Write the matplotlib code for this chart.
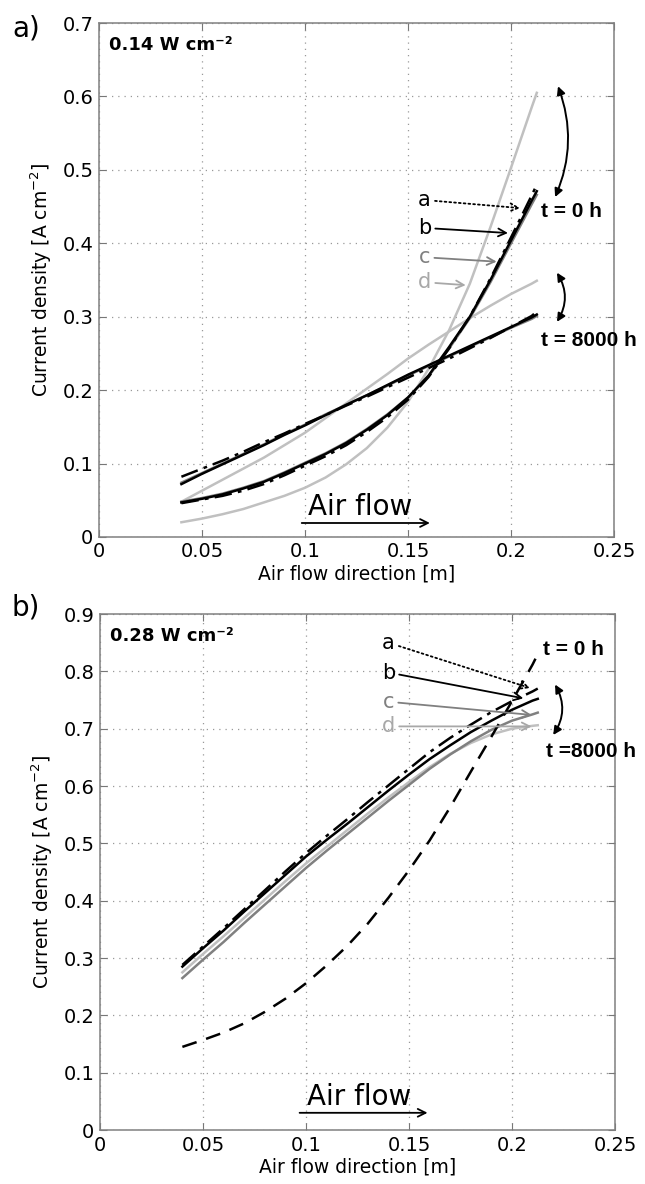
import matplotlib
matplotlib.use("Agg")
import matplotlib.pyplot as plt
import numpy as np

plt.rcParams['font.family'] = ['DejaVu Sans']
plt.rcParams['mathtext.fontset'] = 'dejavusans'

# positions along the channel [m]
x = [0.04, 0.05, 0.06, 0.07, 0.08, 0.09, 0.10, 0.11, 0.12, 0.13,
     0.14, 0.15, 0.16, 0.17, 0.18, 0.19, 0.20, 0.21, 0.2125]

# a) 0.14 W cm-2, t = 0 h
top_t0_a = [0.046, 0.051, 0.056, 0.063, 0.072, 0.084, 0.097, 0.110, 0.125, 0.143,
            0.163, 0.187, 0.218, 0.257, 0.300, 0.352, 0.408, 0.465, 0.480]
top_t0_b = [0.047, 0.052, 0.058, 0.066, 0.075, 0.087, 0.100, 0.113, 0.128, 0.146,
            0.166, 0.190, 0.220, 0.259, 0.300, 0.350, 0.404, 0.458, 0.471]
top_t0_c = [0.048, 0.053, 0.059, 0.067, 0.076, 0.088, 0.101, 0.114, 0.129, 0.147,
            0.167, 0.190, 0.219, 0.257, 0.298, 0.347, 0.400, 0.453, 0.466]
top_t0_d = [0.020, 0.025, 0.031, 0.038, 0.047, 0.056, 0.067, 0.081, 0.099, 0.121,
            0.149, 0.184, 0.229, 0.282, 0.345, 0.422, 0.503, 0.585, 0.605]
# a) 0.14 W cm-2, t = 8000 h
top_t8_a = [0.082, 0.093, 0.104, 0.116, 0.129, 0.141, 0.154, 0.166, 0.179, 0.191,
            0.204, 0.217, 0.230, 0.243, 0.257, 0.271, 0.286, 0.301, 0.307]
top_t8_b = [0.072, 0.086, 0.099, 0.112, 0.125, 0.139, 0.152, 0.166, 0.180, 0.193,
            0.207, 0.221, 0.234, 0.247, 0.260, 0.273, 0.286, 0.299, 0.303]
top_t8_c = [0.074, 0.087, 0.100, 0.113, 0.126, 0.140, 0.153, 0.167, 0.180, 0.193,
            0.206, 0.220, 0.233, 0.246, 0.259, 0.272, 0.285, 0.297, 0.301]
top_t8_d = [0.048, 0.063, 0.078, 0.093, 0.108, 0.125, 0.142, 0.162, 0.182, 0.202,
            0.222, 0.243, 0.262, 0.280, 0.298, 0.315, 0.331, 0.345, 0.349]

# b) 0.28 W cm-2
bot_a = [0.288, 0.320, 0.352, 0.385, 0.418, 0.451, 0.483, 0.513, 0.542, 0.572,
         0.601, 0.630, 0.659, 0.684, 0.707, 0.729, 0.748, 0.765, 0.770]
bot_b = [0.285, 0.317, 0.348, 0.381, 0.413, 0.445, 0.477, 0.506, 0.534, 0.563,
         0.592, 0.620, 0.647, 0.671, 0.694, 0.714, 0.733, 0.749, 0.752]
bot_c = [0.265, 0.297, 0.328, 0.361, 0.393, 0.425, 0.457, 0.487, 0.516, 0.545,
         0.574, 0.602, 0.630, 0.655, 0.678, 0.698, 0.714, 0.725, 0.728]
bot_d = [0.275, 0.307, 0.338, 0.370, 0.402, 0.434, 0.465, 0.494, 0.523, 0.552,
         0.580, 0.607, 0.633, 0.656, 0.675, 0.690, 0.700, 0.705, 0.706]
bot_dashed = [0.145, 0.157, 0.170, 0.186, 0.206, 0.229, 0.256, 0.287, 0.321, 0.360,
              0.405, 0.453, 0.505, 0.563, 0.625, 0.686, 0.748, 0.812, 0.830]

xticks = [0, 0.05, 0.1, 0.15, 0.2, 0.25]
xticklabels = ['0', '0.05', '0.1', '0.15', '0.2', '0.25']

BLACK = 'black'
GRAY = '#808080'
LIGHT = '#c0c0c0'
LIGHT_TXT = '#a8a8a8'
DASHDOT = (0, (7, 2.5, 1.5, 2.5))
BOLD_FONT = ['Liberation Sans', 'DejaVu Sans']


def style_axes(ax, ymax):
    ax.set_xlim(0, 0.25)
    ax.set_ylim(0, ymax)
    ax.set_xticks(xticks)
    ax.set_xticklabels(xticklabels)
    yt = np.round(np.arange(0, ymax + 0.001, 0.1), 1)
    ax.set_yticks(yt)
    ax.set_yticklabels(['0'] + ['%.1f' % v for v in yt[1:]])
    ax.grid(True, linestyle=(0, (1, 4)), color='#999999', linewidth=0.9)
    ax.tick_params(direction='in', top=True, right=True, length=5,
                   color='#777777', labelsize=14, pad=4)
    for s in ax.spines.values():
        s.set_color('#808080')
        s.set_linewidth(1.1)
    ax.set_xlabel('Air flow direction [m]', fontsize=13.5, labelpad=2)
    ax.set_ylabel('Current density [A cm$^{-2}$]', fontsize=13.5, labelpad=6)


def label_arrow(ax, letter, xytext, xy, color, ls='-'):
    ax.annotate(letter, xy=xy, xytext=xytext, fontsize=15, color=color,
                ha='center', va='center',
                arrowprops=dict(arrowstyle='->', color=color, lw=1.3,
                                linestyle=ls, shrinkA=1, shrinkB=0,
                                mutation_scale=14))


def swing_arrow(ax, top, bottom, rad):
    ax.annotate('', xy=bottom, xytext=top,
                arrowprops=dict(arrowstyle='<|-|>', color='k', lw=1.4,
                                connectionstyle='arc3,rad=%s' % rad,
                                shrinkA=0, shrinkB=0, mutation_scale=12),
                annotation_clip=False)


fig = plt.figure(figsize=(6.45, 11.84), dpi=100)
ax1 = fig.add_axes([0.1535, 0.5465, 0.7985, 0.434])
ax2 = fig.add_axes([0.155, 0.0456, 0.7985, 0.4358])

# ---- panel a
lw = 1.8
for yd in (top_t0_d, top_t8_d):
    ax1.plot(x, yd, color=LIGHT, lw=lw)
for yc in (top_t0_c, top_t8_c):
    ax1.plot(x, yc, color=GRAY, lw=lw)
for yb in (top_t0_b, top_t8_b):
    ax1.plot(x, yb, color=BLACK, lw=lw)
for ya in (top_t0_a, top_t8_a):
    ax1.plot(x, ya, color=BLACK, lw=lw, linestyle=DASHDOT)
style_axes(ax1, 0.7)

ax1.text(0.02, 0.975, '0.14 W cm⁻²', transform=ax1.transAxes,
         fontsize=13, fontweight='bold', va='top')
ax1.text(0.1015, 0.030, 'Air flow', fontsize=20)
ax1.annotate('', xy=(0.1606, 0.019), xytext=(0.0984, 0.019),
             arrowprops=dict(arrowstyle='->', lw=1.3, color='k',
                             shrinkA=0, shrinkB=0, mutation_scale=14))
label_arrow(ax1, 'a', (0.158, 0.459), (0.2044, 0.448), BLACK, ':')
label_arrow(ax1, 'b', (0.158, 0.421), (0.1985, 0.414), BLACK)
label_arrow(ax1, 'c', (0.158, 0.381), (0.193, 0.375), GRAY)
label_arrow(ax1, 'd', (0.158, 0.347), (0.178, 0.343), LIGHT_TXT)
ax1.text(0.2145, 0.443, 't = 0 h', fontsize=15, fontweight='bold',
         va='center', family=BOLD_FONT)
ax1.text(0.2145, 0.267, 't = 8000 h', fontsize=15, fontweight='bold',
         va='center', family=BOLD_FONT)
swing_arrow(ax1, (0.2228, 0.614), (0.2214, 0.463), -0.2)
swing_arrow(ax1, (0.2223, 0.360), (0.2223, 0.293), -0.3)

# ---- panel b
ax2.plot(x, bot_d, color=LIGHT, lw=lw)
ax2.plot(x, bot_c, color=GRAY, lw=lw)
ax2.plot(x, bot_b, color=BLACK, lw=lw)
ax2.plot(x, bot_a, color=BLACK, lw=lw, linestyle=DASHDOT)
ax2.plot(x, bot_dashed, color=BLACK, lw=lw, linestyle=(0, (6, 4)))
style_axes(ax2, 0.9)

ax2.text(0.02, 0.975, '0.28 W cm⁻²', transform=ax2.transAxes,
         fontsize=13, fontweight='bold', va='top')
ax2.text(0.1005, 0.044, 'Air flow', fontsize=20)
ax2.annotate('', xy=(0.159, 0.030), xytext=(0.0969, 0.030),
             arrowprops=dict(arrowstyle='->', lw=1.3, color='k',
                             shrinkA=0, shrinkB=0, mutation_scale=14))
label_arrow(ax2, 'a', (0.140, 0.850), (0.2087, 0.771), BLACK, ':')
label_arrow(ax2, 'b', (0.140, 0.798), (0.2055, 0.753), BLACK)
label_arrow(ax2, 'c', (0.140, 0.747), (0.2095, 0.724), GRAY)
label_arrow(ax2, 'd', (0.140, 0.704), (0.2095, 0.704), LIGHT_TXT)
ax2.text(0.215, 0.838, 't = 0 h', fontsize=15, fontweight='bold',
         va='center', family=BOLD_FONT)
ax2.text(0.2165, 0.661, 't =8000 h', fontsize=15, fontweight='bold',
         va='center', family=BOLD_FONT)
swing_arrow(ax2, (0.2209, 0.777), (0.220, 0.689), -0.3)

fig.text(12 / 645, 1 - 28 / 1184, 'a)', fontsize=20, va='center')
fig.text(12 / 645, 1 - 607 / 1184, 'b)', fontsize=20, va='center')

fig.savefig('out.png', dpi=100)
